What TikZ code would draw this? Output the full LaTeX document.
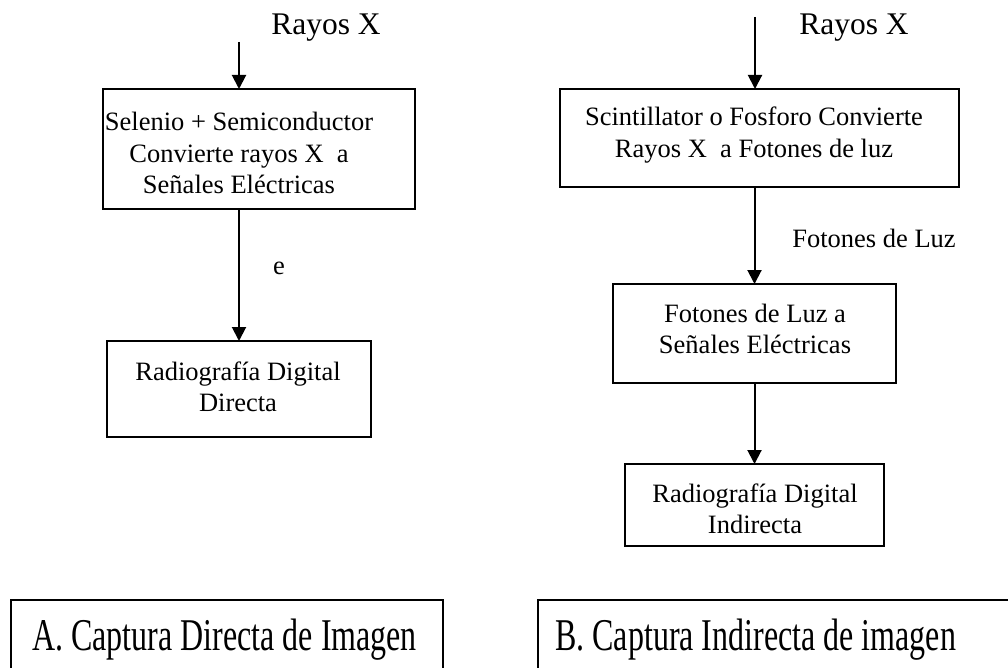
\documentclass[tikz,border=0pt]{standalone}
\usepackage{fontspec}
\setmainfont{Liberation Serif}
\usetikzlibrary{arrows.meta}
\begin{document}
\begin{tikzpicture}[x=1pt,y=-1pt,
  frame/.style={draw, line width=2pt, inner sep=0pt, outer sep=0pt},
  boxtext/.style={font=\fontsize{26.5}{31.5}\selectfont, align=center, inner sep=0pt},
  head/.style={font=\fontsize{31.5}{36}\selectfont, inner sep=0pt, anchor=base},
  lbl/.style={font=\fontsize{26.5}{31.5}\selectfont, inner sep=0pt},
  caption/.style={font=\fontsize{32}{36}\selectfont, inner sep=0pt, anchor=base west},
  flow/.style={line width=2pt, -{Triangle[length=14pt,width=14pt]}}]
\useasboundingbox (0,0) rectangle (1008,668);
\clip (0,0) rectangle (1008,668);

% --- left column: direct capture ---
\node[head] (rx1) at (326,35) {Rayos X};
\coordinate (in1) at (239,42);
\node[frame, minimum width=312pt, minimum height=120pt] (sel) at (259,149) {};
\node[boxtext] (selt) at (239,153) {Selenio + Semiconductor\\Convierte rayos X\ \ a\\Señales Eléctricas};
\node[frame, minimum width=264pt, minimum height=96pt] (rdd) at (239,389) {};
\node[boxtext] (rddt) at (238,387) {Radiografía Digital\\Directa};
\draw[flow] (in1) -- (in1 |- sel.north);
\draw[flow] (rdd.north |- sel.south) -- (rdd.north);
\node[lbl] (e) at (279,268) {e};

% --- right column: indirect capture ---
\node[head] (rx2) at (854,35) {Rayos X};
\coordinate (in2) at (755,17);
\node[frame, minimum width=399pt, minimum height=98pt] (sci) at (759.5,138) {};
\node[boxtext] (scit) at (754,135) {Scintillator o Fosforo Convierte\\Rayos X\ \ a Fotones de luz};
\node[frame, minimum width=283pt, minimum height=99pt] (fot) at (754.5,333.5) {};
\node[boxtext] (fott) at (755,329) {Fotones de Luz a\\Señales Eléctricas};
\node[frame, minimum width=259pt, minimum height=82pt] (rdi) at (754.5,505) {};
\node[boxtext] (rdit) at (755,509) {Radiografía Digital\\Indirecta};
\draw[flow] (in2) -- (in2 |- sci.north);
\draw[flow] (fot.north |- sci.south) -- (fot.north);
\draw[flow] (rdi.north |- fot.south) -- (rdi.north);
\node[lbl] (fl) at (874,238) {Fotones de Luz};

% --- captions along the bottom ---
\node[frame, minimum width=432pt, minimum height=100pt] (capA) at (227,650) {};
\node[frame, minimum width=512pt, minimum height=100pt] (capB) at (794,650) {};
\node[caption] (capAt) at (32,650) {\scalebox{1}[1.42]{A. Captura Directa de Imagen}};
\node[caption] (capBt) at (555,650) {\scalebox{1}[1.42]{B. Captura Indirecta de imagen}};
\end{tikzpicture}
\end{document}
